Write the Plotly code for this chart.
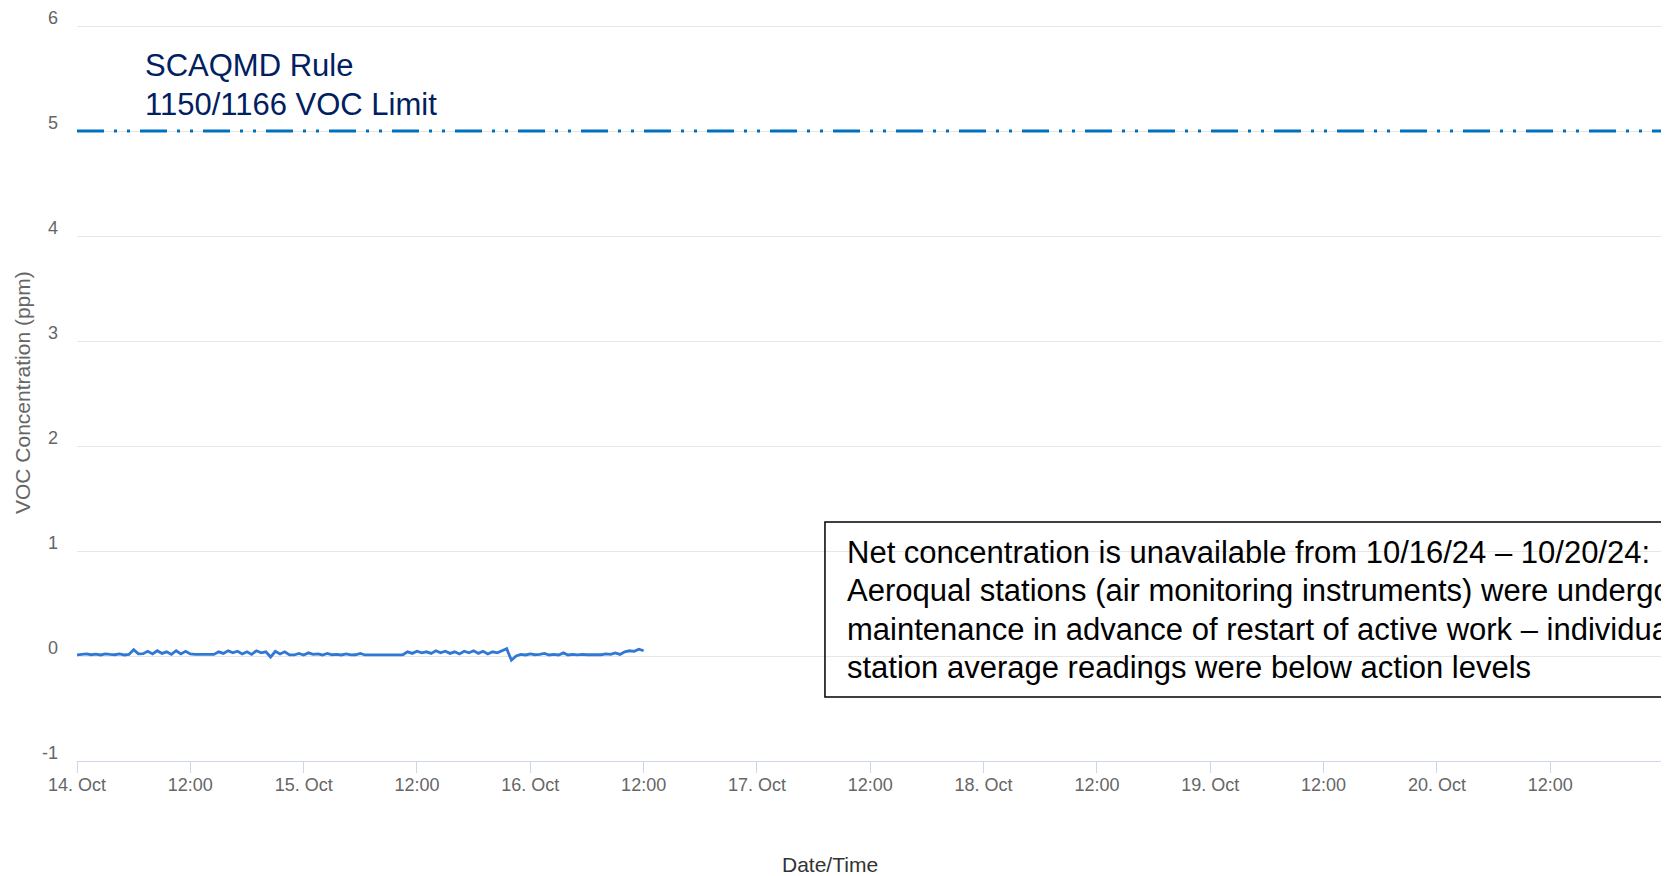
import pandas as pd
import plotly.graph_objects as go

# ---- data ----
start_time = "2024-10-14 00:00"
voc_values = [
    0.01, 0.015, 0.02, 0.012, 0.018, 0.01, 0.02, 0.015, 0.012, 0.02, 0.01, 0.015,
    0.06,
    0.02, 0.022,
    0.045, 0.02, 0.05, 0.025, 0.04, 0.015, 0.05, 0.02, 0.045, 0.02,
    0.015, 0.015, 0.015, 0.015, 0.015,
    0.04, 0.025, 0.05, 0.03, 0.045, 0.02, 0.04, 0.015, 0.05, 0.03, 0.04,
    -0.01,
    0.045, 0.02, 0.04,
    0.01, 0.01,
    0.025, 0.01, 0.03, 0.015, 0.02, 0.01, 0.025, 0.012, 0.015, 0.01, 0.02, 0.01, 0.012, 0.025, 0.01,
    0.01, 0.01, 0.01, 0.01, 0.01, 0.01, 0.01, 0.012,
    0.04, 0.025, 0.045, 0.03, 0.04, 0.025, 0.05, 0.03, 0.045, 0.025, 0.04, 0.02, 0.045,
    0.03, 0.05, 0.025, 0.045, 0.02, 0.04, 0.03, 0.05,
    0.07, -0.04, 0.0,
    0.015, 0.01, 0.02, 0.012, 0.015, 0.025, 0.01, 0.015, 0.01, 0.03, 0.01,
    0.015, 0.01, 0.015, 0.012, 0.01, 0.015, 0.012, 0.02, 0.015,
    0.03, 0.015, 0.04, 0.05, 0.045, 0.065, 0.05,
]
voc_times = pd.date_range(start_time, periods=len(voc_values), freq="30min")

limit_times = ["2024-10-14 00:00", "2024-10-21 00:00"]
limit_values = [5, 5]

tick_dates = [
    "2024-10-14 00:00", "2024-10-14 12:00", "2024-10-15 00:00", "2024-10-15 12:00",
    "2024-10-16 00:00", "2024-10-16 12:00", "2024-10-17 00:00", "2024-10-17 12:00",
    "2024-10-18 00:00", "2024-10-18 12:00", "2024-10-19 00:00", "2024-10-19 12:00",
    "2024-10-20 00:00", "2024-10-20 12:00",
]
tick_labels = [
    "14. Oct", "12:00", "15. Oct", "12:00", "16. Oct", "12:00", "17. Oct", "12:00",
    "18. Oct", "12:00", "19. Oct", "12:00", "20. Oct", "12:00",
]
y_ticks = [-1, 0, 1, 2, 3, 4, 5, 6]
y_tick_labels = ["-1", "0", "1", "2", "3", "4", "5", "6"]

limit_label_lines = ["SCAQMD Rule", "1150/1166 VOC Limit"]
note_lines = [
    "Net concentration is unavailable from 10/16/24 – 10/20/24:",
    "Aeroqual stations (air monitoring instruments) were undergoing",
    "maintenance in advance of restart of active work – individual",
    "station average readings were below action levels",
]

fig = go.Figure()
fig.add_trace(go.Scatter(
    x=limit_times, y=limit_values, mode="lines",
    line=dict(color="#0070c0", width=3, dash="27px,10px,3px,10px,3px,10px"),
    hoverinfo="skip", showlegend=False,
))
fig.add_trace(go.Scatter(
    x=voc_times, y=voc_values, mode="lines",
    line=dict(color="#3078d6", width=2.8),
    showlegend=False,
))

annotations = []
for txt, yy in zip(limit_label_lines, [0.9443, 0.8920]):
    annotations.append(dict(text=txt, xref="paper", yref="paper", x=0.0416, y=yy,
                            xanchor="left", yanchor="middle", align="left", showarrow=False,
                            font=dict(size=31, color="#002060")))
for txt, yy in zip(note_lines, [0.2834, 0.2310, 0.1792, 0.1271]):
    annotations.append(dict(text=txt, xref="paper", yref="paper", x=0.4845, y=yy,
                            xanchor="left", yanchor="middle", align="left", showarrow=False,
                            font=dict(size=31, color="#000000")))
annotations.append(dict(text="VOC Concentration (ppm)", xref="paper", yref="paper",
                        x=-0.0347, y=0.5, xanchor="center", yanchor="middle", textangle=-90,
                        showarrow=False, font=dict(size=21, color="#666666")))
annotations.append(dict(text="Date/Time", xref="paper", yref="paper",
                        x=0.475, y=-0.14, xanchor="center", yanchor="middle",
                        showarrow=False, font=dict(size=21, color="#333333")))

# page body has an 8px margin, so the figure is sized/placed to compensate
fig.update_layout(
    width=1661, height=868,
    margin=dict(l=69, r=7, t=17, b=115, autoexpand=False),
    paper_bgcolor="white", plot_bgcolor="white",
    font=dict(family="Arial, Liberation Sans, sans-serif", color="#666666"),
    xaxis=dict(
        type="date",
        range=["2024-10-14 00:00", "2024-10-20 23:50"],
        tickvals=tick_dates, ticktext=tick_labels,
        tickfont=dict(size=18, color="#666666"),
        ticks="outside", ticklen=11, tickcolor="#ccd6eb", tickwidth=1,
        ticklabelstandoff=-4,
        showline=True, linecolor="#ccd6eb", linewidth=1,
        showgrid=False, zeroline=False, automargin=False,
    ),
    yaxis=dict(
        range=[-1, 6.01],
        tickvals=y_ticks, ticktext=y_tick_labels,
        tickfont=dict(size=18, color="#666666"),
        ticks="", ticklabelstandoff=18, ticklabelshift=-8,
        showgrid=True, gridcolor="#e6e6e6", gridwidth=1,
        zeroline=False, showline=False, automargin=False,
    ),
    shapes=[dict(
        type="rect", xref="paper", yref="paper",
        x0=0.4719, x1=1.1, y0=0.087, y1=0.3247,
        line=dict(color="#000000", width=1.5), fillcolor="rgba(0,0,0,0)",
    )],
    annotations=annotations,
)

fig.write_html("out.html")
